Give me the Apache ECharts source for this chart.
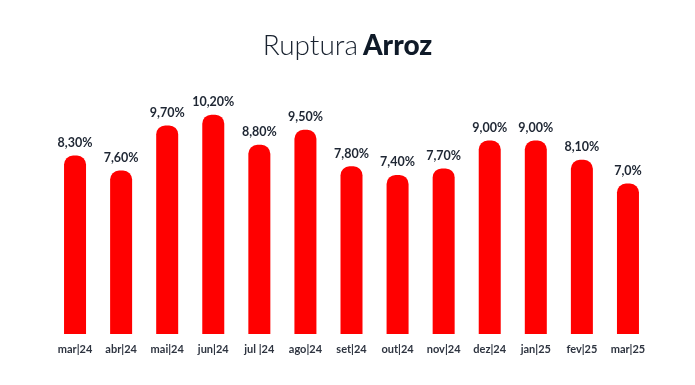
<!DOCTYPE html>
<html>
<head>
<meta charset="utf-8">
<script src="https://cdn.jsdelivr.net/npm/echarts@6/dist/echarts.min.js"></script>
<style>
html,body{margin:0;padding:0;background:#fff;}
#chart{width:695px;height:385px;}
</style>
</head>
<body>
<div id="chart"></div>
<script>
const categories = ['mar|24','abr|24','mai|24','jun|24','jul |24','ago|24','set|24','out|24','nov|24','dez|24','jan|25','fev|25','mar|25'];
const values = [8.3, 7.6, 9.7, 10.2, 8.8, 9.5, 7.8, 7.4, 7.7, 9.0, 9.0, 8.1, 7.0];
const valueLabels = ['8,30%','7,60%','9,70%','10,20%','8,80%','9,50%','7,80%','7,40%','7,70%','9,00%','9,00%','8,10%','7,0%'];

const chart = echarts.init(document.getElementById('chart'), null, {renderer:'canvas'});
chart.setOption({
  backgroundColor: '#ffffff',
  animation: false,
  title: {
    left: 'center',
    top: 27,
    text: '{a|Ruptura} {b|Arroz}',
    textStyle: {
      rich: {
        a: {fontFamily: 'Lato', fontWeight: 300, fontSize: 28, color: '#1a2330'},
        b: {fontFamily: 'Lato', fontWeight: 900, fontSize: 28, color: '#0f1a28'}
      }
    }
  },
  grid: {left: 52, right: 44, top: 76, bottom: 51, containLabel: false},
  xAxis: {
    type: 'category',
    data: categories,
    axisLine: {show: false},
    axisTick: {show: false},
    axisLabel: {
      margin: 10,
      fontFamily: 'Lato',
      fontWeight: 'bold',
      fontSize: 11,
      color: '#2e3440',
      interval: 0
    }
  },
  yAxis: {
    type: 'value',
    min: 0,
    max: 12,
    show: false,
    splitLine: {show: false}
  },
  series: [{
    type: 'bar',
    data: values,
    barWidth: 22,
    itemStyle: {color: '#ff0000', borderRadius: [9, 9, 0, 0]},
    label: {
      show: true,
      position: 'top',
      distance: 6,
      fontFamily: 'Lato',
      fontWeight: 'bold',
      fontSize: 12.5,
      color: '#1e2633',
      formatter: function (p) { return valueLabels[p.dataIndex]; }
    }
  }]
});
</script>
</body>
</html>
